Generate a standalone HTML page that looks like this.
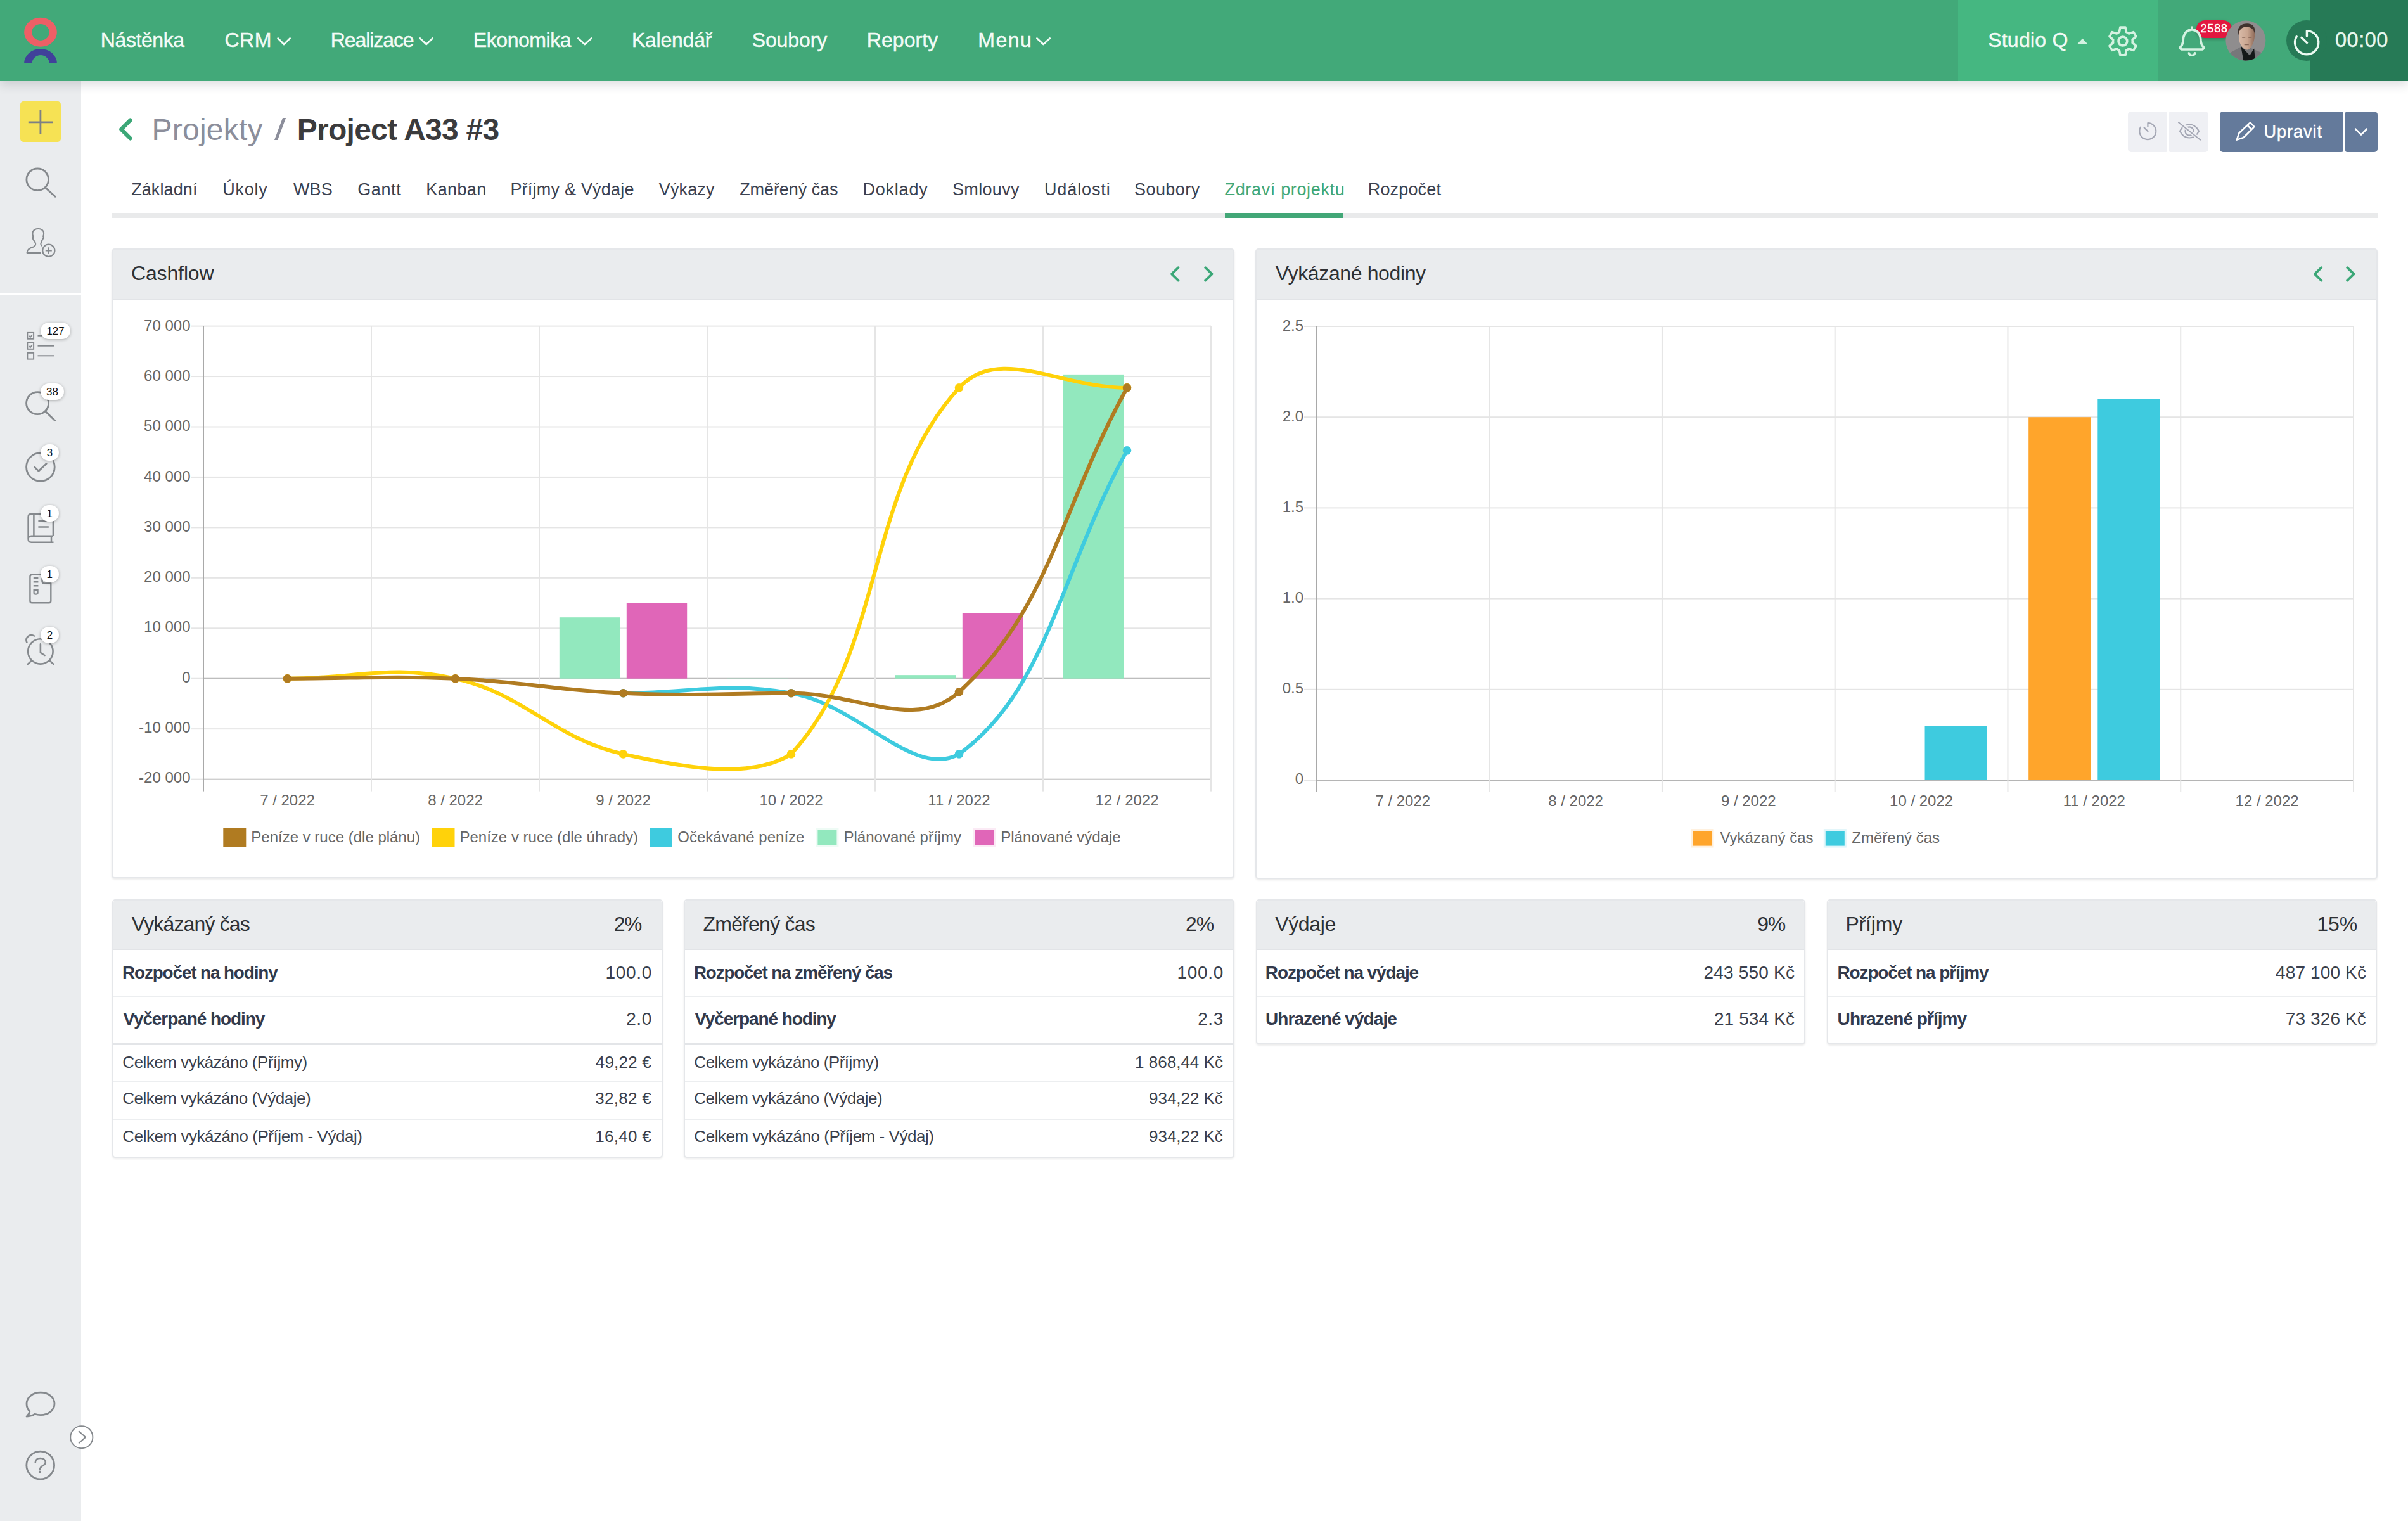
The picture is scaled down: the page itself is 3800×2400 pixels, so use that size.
<!DOCTYPE html>
<html lang="cs"><head><meta charset="utf-8"><title>Project A33 #3</title>
<style>
*{box-sizing:border-box}
html,body{margin:0;padding:0}
body{width:3800px;height:2400px;overflow:hidden;background:#fff;position:relative;font-family:"Liberation Sans",sans-serif}
div{position:absolute}
.t{position:absolute;white-space:nowrap;line-height:1em;font-family:"Liberation Sans",sans-serif}
#nav{left:0;top:0;width:3800px;height:127.6px;background:#42a979;box-shadow:0 5px 16px rgba(30,40,50,.16)}
#navl{left:3090px;top:0;width:316px;height:127.6px;background:#45b781}
#navd{left:3646px;top:0;width:154px;height:127.6px;background:#267a56}
#navc{left:3607.7px;top:31.9px;width:64px;height:64px;border-radius:50%;background:#267a56}
#side{left:0;top:128px;width:128px;height:2272px;background:#eaecee}
#sep{left:0;top:463px;width:128px;height:2.5px;background:#fff}
#plus{left:32px;top:160px;width:64px;height:63.5px;background:#f6e254;border-radius:5px}
.bd{background:#fff;border-radius:13px;height:26.2px;box-shadow:0 1px 5px rgba(0,0,0,.28)}
#red{left:3466px;top:31.6px;width:56px;height:28.8px;border-radius:14.4px;background:#e3173f;box-shadow:0 2px 5px rgba(0,0,0,.25)}
#tabline{left:176px;top:336px;width:3576px;height:7.6px;background:#e9eaeb}
#tabact{left:1933px;top:336px;width:187px;height:7.6px;background:#42a777}
.lb{background:#eff0f4;top:176px;height:63.7px}
.db{background:#647a9b;top:176px;height:63.7px}
.p{border:2px solid #e5e7ea;border-radius:5px;background:#fff;box-shadow:0 2px 3px rgba(0,0,0,.08)}
.ph{left:0;top:0;right:0;height:78.6px;background:#eaecee;border-radius:4px 4px 0 0;border-bottom:1.5px solid #e2e4e7}
.rl{left:0;right:0;height:2px;background:#eceef0}
svg{position:absolute;left:0;top:0}
</style></head>
<body>
<div id="side"></div><div id="sep"></div><div id="plus"></div>
<div id="nav"><div id="navl"></div><div id="navd"></div><div id="navc"></div></div>
<div id="red"></div>
<div class="bd" style="left:64.2px;top:509.1px;width:46.9px;z-index:3"></div>
<div class="bd" style="left:64.2px;top:605.3px;width:36.8px;z-index:3"></div>
<div class="bd" style="left:64.2px;top:701.3px;width:28.6px;z-index:3"></div>
<div class="bd" style="left:64.2px;top:797.3px;width:28.6px;z-index:3"></div>
<div class="bd" style="left:64.2px;top:893.3px;width:28.6px;z-index:3"></div>
<div class="bd" style="left:64.2px;top:989.3px;width:28.6px;z-index:3"></div>
<div id="tabline"></div><div id="tabact"></div>
<div class="lb" style="left:3357.5px;width:62.9px;border-radius:5px 2px 2px 5px"></div><div class="lb" style="left:3423.1px;width:62.3px;border-radius:2px 5px 5px 2px"></div>
<div class="db" style="left:3502.5px;width:195.1px;border-radius:5px 3px 3px 5px"></div><div class="db" style="left:3701px;width:51px;border-radius:3px 5px 5px 3px"></div>
<div class="p" style="left:176.4px;top:392.2px;width:1771.7px;height:993.8px"><div class="ph"></div></div>
<div class="p" style="left:1981.3px;top:392.2px;width:1770.6px;height:994.8px"><div class="ph"></div></div>
<div class="p" style="left:176.6px;top:1418.9px;width:869.1px;height:407.7px"><div class="ph"></div><div class="rl" style="top:150.5px;height:2.0px;background:#eceef0"></div><div class="rl" style="top:224.5px;height:3.2px;background:#e3e5e8"></div><div class="rl" style="top:284.5px;height:2.0px;background:#eceef0"></div><div class="rl" style="top:343.9px;height:2.0px;background:#eceef0"></div></div>
<div class="p" style="left:1079.3px;top:1418.9px;width:868.4px;height:407.7px"><div class="ph"></div><div class="rl" style="top:150.5px;height:2.0px;background:#eceef0"></div><div class="rl" style="top:224.5px;height:3.2px;background:#e3e5e8"></div><div class="rl" style="top:284.5px;height:2.0px;background:#eceef0"></div><div class="rl" style="top:343.9px;height:2.0px;background:#eceef0"></div></div>
<div class="p" style="left:1982.1px;top:1418.9px;width:866.8px;height:228.9px"><div class="ph"></div><div class="rl" style="top:150.5px;height:2.0px;background:#eceef0"></div></div>
<div class="p" style="left:2882.9px;top:1418.9px;width:868.6px;height:228.9px"><div class="ph"></div><div class="rl" style="top:150.5px;height:2.0px;background:#eceef0"></div></div>
<svg width="3800" height="2400" viewBox="0 0 3800 2400" style="z-index:2">
<rect x="301.50" y="513.60" width="19.50" height="2.00" fill="#e5e5e5"/>
<rect x="321.00" y="513.60" width="1590.00" height="2.00" fill="#e5e5e5"/>
<text x="300.5" y="521.5" text-anchor="end" font-family="Liberation Sans, sans-serif" font-size="24" fill="#666">70 000</text>
<rect x="301.50" y="593.04" width="19.50" height="2.00" fill="#e5e5e5"/>
<rect x="321.00" y="593.04" width="1590.00" height="2.00" fill="#e5e5e5"/>
<text x="300.5" y="600.8" text-anchor="end" font-family="Liberation Sans, sans-serif" font-size="24" fill="#666">60 000</text>
<rect x="301.50" y="672.49" width="19.50" height="2.00" fill="#e5e5e5"/>
<rect x="321.00" y="672.49" width="1590.00" height="2.00" fill="#e5e5e5"/>
<text x="300.5" y="680.1" text-anchor="end" font-family="Liberation Sans, sans-serif" font-size="24" fill="#666">50 000</text>
<rect x="301.50" y="751.93" width="19.50" height="2.00" fill="#e5e5e5"/>
<rect x="321.00" y="751.93" width="1590.00" height="2.00" fill="#e5e5e5"/>
<text x="300.5" y="759.5" text-anchor="end" font-family="Liberation Sans, sans-serif" font-size="24" fill="#666">40 000</text>
<rect x="301.50" y="831.38" width="19.50" height="2.00" fill="#e5e5e5"/>
<rect x="321.00" y="831.38" width="1590.00" height="2.00" fill="#e5e5e5"/>
<text x="300.5" y="838.8" text-anchor="end" font-family="Liberation Sans, sans-serif" font-size="24" fill="#666">30 000</text>
<rect x="301.50" y="910.82" width="19.50" height="2.00" fill="#e5e5e5"/>
<rect x="321.00" y="910.82" width="1590.00" height="2.00" fill="#e5e5e5"/>
<text x="300.5" y="918.1" text-anchor="end" font-family="Liberation Sans, sans-serif" font-size="24" fill="#666">20 000</text>
<rect x="301.50" y="990.27" width="19.50" height="2.00" fill="#e5e5e5"/>
<rect x="321.00" y="990.27" width="1590.00" height="2.00" fill="#e5e5e5"/>
<text x="300.5" y="997.4" text-anchor="end" font-family="Liberation Sans, sans-serif" font-size="24" fill="#666">10 000</text>
<rect x="301.50" y="1069.71" width="19.50" height="2.00" fill="#e5e5e5"/>
<rect x="321.00" y="1069.71" width="1590.00" height="2.00" fill="#bdbdbd"/>
<text x="300.5" y="1076.8" text-anchor="end" font-family="Liberation Sans, sans-serif" font-size="24" fill="#666">0</text>
<rect x="301.50" y="1149.16" width="19.50" height="2.00" fill="#e5e5e5"/>
<rect x="321.00" y="1149.16" width="1590.00" height="2.00" fill="#e5e5e5"/>
<text x="300.5" y="1156.1" text-anchor="end" font-family="Liberation Sans, sans-serif" font-size="24" fill="#666">-10 000</text>
<rect x="301.50" y="1228.60" width="19.50" height="2.00" fill="#e5e5e5"/>
<rect x="321.00" y="1228.60" width="1590.00" height="2.00" fill="#cfcfcf"/>
<text x="300.5" y="1235.4" text-anchor="end" font-family="Liberation Sans, sans-serif" font-size="24" fill="#666">-20 000</text>
<rect x="320.00" y="514.60" width="2.00" height="734.00" fill="#a9a9a9"/>
<rect x="585.00" y="514.60" width="2.00" height="734.00" fill="#e5e5e5"/>
<rect x="850.00" y="514.60" width="2.00" height="734.00" fill="#e5e5e5"/>
<rect x="1115.00" y="514.60" width="2.00" height="734.00" fill="#e5e5e5"/>
<rect x="1380.00" y="514.60" width="2.00" height="734.00" fill="#e5e5e5"/>
<rect x="1645.00" y="514.60" width="2.00" height="734.00" fill="#e5e5e5"/>
<rect x="1910.00" y="514.60" width="2.00" height="734.00" fill="#e5e5e5"/>
<rect x="882.80" y="974.19" width="95.40" height="96.53" fill="#92e8be"/>
<rect x="988.80" y="951.54" width="95.40" height="119.17" fill="#e066b8"/>
<rect x="1147.80" y="1070.47" width="95.40" height="0.24" fill="#92e8be"/>
<rect x="1412.80" y="1065.15" width="95.40" height="5.56" fill="#92e8be"/>
<rect x="1518.80" y="967.43" width="95.40" height="103.28" fill="#e066b8"/>
<rect x="1677.80" y="590.87" width="95.40" height="479.84" fill="#92e8be"/>
<path d="M983.50 1093.75 C1089.50 1093.75 1145.77 1075.12 1248.50 1093.75 C1357.77 1113.57 1441.44 1229.60 1513.50 1189.88 C1653.44 1088.77 1672.50 902.45 1778.50 710.83" fill="none" stroke="#3ecbdf" stroke-width="6" stroke-linejoin="round"/>
<circle cx="983.50" cy="1093.75" r="6.8" fill="#3ecbdf"/>
<circle cx="1248.50" cy="1093.75" r="6.8" fill="#3ecbdf"/>
<circle cx="1513.50" cy="1189.88" r="6.8" fill="#3ecbdf"/>
<circle cx="1778.50" cy="710.83" r="6.8" fill="#3ecbdf"/>
<path d="M453.50 1070.71 C559.50 1070.71 617.38 1047.97 718.50 1070.71 C829.38 1095.64 872.62 1164.95 983.50 1189.88 C1084.62 1212.61 1186.13 1229.60 1248.50 1189.88 C1398.13 1026.70 1363.87 775.09 1513.50 611.92 C1575.87 543.91 1672.50 611.92 1778.50 611.92" fill="none" stroke="#ffd20a" stroke-width="6" stroke-linejoin="round"/>
<circle cx="453.50" cy="1070.71" r="6.8" fill="#ffd20a"/>
<circle cx="718.50" cy="1070.71" r="6.8" fill="#ffd20a"/>
<circle cx="983.50" cy="1189.88" r="6.8" fill="#ffd20a"/>
<circle cx="1248.50" cy="1189.88" r="6.8" fill="#ffd20a"/>
<circle cx="1513.50" cy="611.92" r="6.8" fill="#ffd20a"/>
<circle cx="1778.50" cy="611.92" r="6.8" fill="#ffd20a"/>
<path d="M453.50 1070.71 C559.50 1070.71 612.70 1066.11 718.50 1070.71 C824.70 1075.33 877.30 1089.13 983.50 1093.75 C1089.30 1098.35 1142.50 1094.15 1248.50 1093.75 C1354.50 1093.35 1444.41 1154.57 1513.50 1091.76 C1656.41 961.84 1672.50 803.86 1778.50 611.92" fill="none" stroke="#b07b21" stroke-width="6" stroke-linejoin="round"/>
<circle cx="453.50" cy="1070.71" r="6.8" fill="#b07b21"/>
<circle cx="718.50" cy="1070.71" r="6.8" fill="#b07b21"/>
<circle cx="983.50" cy="1093.75" r="6.8" fill="#b07b21"/>
<circle cx="1248.50" cy="1093.75" r="6.8" fill="#b07b21"/>
<circle cx="1513.50" cy="1091.76" r="6.8" fill="#b07b21"/>
<circle cx="1778.50" cy="611.92" r="6.8" fill="#b07b21"/>
<text x="453.5" y="1271" text-anchor="middle" font-family="Liberation Sans, sans-serif" font-size="24" fill="#666">7 / 2022</text>
<text x="718.5" y="1271" text-anchor="middle" font-family="Liberation Sans, sans-serif" font-size="24" fill="#666">8 / 2022</text>
<text x="983.5" y="1271" text-anchor="middle" font-family="Liberation Sans, sans-serif" font-size="24" fill="#666">9 / 2022</text>
<text x="1248.5" y="1271" text-anchor="middle" font-family="Liberation Sans, sans-serif" font-size="24" fill="#666">10 / 2022</text>
<text x="1513.5" y="1271" text-anchor="middle" font-family="Liberation Sans, sans-serif" font-size="24" fill="#666">11 / 2022</text>
<text x="1778.5" y="1271" text-anchor="middle" font-family="Liberation Sans, sans-serif" font-size="24" fill="#666">12 / 2022</text>
<rect x="352.30" y="1306.60" width="36.00" height="30.00" fill="#b07b21"/>
<rect x="681.50" y="1306.60" width="36.00" height="30.00" fill="#ffd20a"/>
<rect x="1025.00" y="1306.60" width="36.00" height="30.00" fill="#3ecbdf"/>
<rect x="1287.40" y="1306.60" width="36.00" height="30.00" fill="#eefbf5"/>
<rect x="1290.40" y="1309.60" width="30.00" height="24.00" fill="#92e8be"/>
<rect x="1535.40" y="1306.60" width="36.00" height="30.00" fill="#fbeaf5"/>
<rect x="1538.40" y="1309.60" width="30.00" height="24.00" fill="#e066b8"/>
<text x="396.3" y="1328.6" font-family="Liberation Sans, sans-serif" font-size="24" fill="#666">Peníze v ruce (dle plánu)</text>
<text x="725.5" y="1328.6" font-family="Liberation Sans, sans-serif" font-size="24" fill="#666">Peníze v ruce (dle úhrady)</text>
<text x="1069.3" y="1328.6" font-family="Liberation Sans, sans-serif" font-size="24" fill="#666">Očekávané peníze</text>
<text x="1331.5" y="1328.6" font-family="Liberation Sans, sans-serif" font-size="24" fill="#666">Plánované příjmy</text>
<text x="1579.2" y="1328.6" font-family="Liberation Sans, sans-serif" font-size="24" fill="#666">Plánované výdaje</text>
<rect x="2057.90" y="514.00" width="19.50" height="2.00" fill="#e5e5e5"/>
<rect x="2077.40" y="514.00" width="1636.60" height="2.00" fill="#e5e5e5"/>
<text x="2057" y="521.7" text-anchor="end" font-family="Liberation Sans, sans-serif" font-size="24" fill="#666">2.5</text>
<rect x="2057.90" y="657.20" width="19.50" height="2.00" fill="#e5e5e5"/>
<rect x="2077.40" y="657.20" width="1636.60" height="2.00" fill="#e5e5e5"/>
<text x="2057" y="664.7" text-anchor="end" font-family="Liberation Sans, sans-serif" font-size="24" fill="#666">2.0</text>
<rect x="2057.90" y="800.40" width="19.50" height="2.00" fill="#e5e5e5"/>
<rect x="2077.40" y="800.40" width="1636.60" height="2.00" fill="#e5e5e5"/>
<text x="2057" y="807.7" text-anchor="end" font-family="Liberation Sans, sans-serif" font-size="24" fill="#666">1.5</text>
<rect x="2057.90" y="943.60" width="19.50" height="2.00" fill="#e5e5e5"/>
<rect x="2077.40" y="943.60" width="1636.60" height="2.00" fill="#e5e5e5"/>
<text x="2057" y="950.7" text-anchor="end" font-family="Liberation Sans, sans-serif" font-size="24" fill="#666">1.0</text>
<rect x="2057.90" y="1086.80" width="19.50" height="2.00" fill="#e5e5e5"/>
<rect x="2077.40" y="1086.80" width="1636.60" height="2.00" fill="#e5e5e5"/>
<text x="2057" y="1093.7" text-anchor="end" font-family="Liberation Sans, sans-serif" font-size="24" fill="#666">0.5</text>
<rect x="2057.90" y="1230.00" width="19.50" height="2.00" fill="#e5e5e5"/>
<rect x="2077.40" y="1230.00" width="1636.60" height="2.00" fill="#b5b5b5"/>
<text x="2057" y="1236.8" text-anchor="end" font-family="Liberation Sans, sans-serif" font-size="24" fill="#666">0</text>
<rect x="2076.40" y="515.00" width="2.00" height="735.00" fill="#a9a9a9"/>
<rect x="2349.17" y="515.00" width="2.00" height="735.00" fill="#e5e5e5"/>
<rect x="2621.93" y="515.00" width="2.00" height="735.00" fill="#e5e5e5"/>
<rect x="2894.70" y="515.00" width="2.00" height="735.00" fill="#e5e5e5"/>
<rect x="3167.47" y="515.00" width="2.00" height="735.00" fill="#e5e5e5"/>
<rect x="3440.23" y="515.00" width="2.00" height="735.00" fill="#e5e5e5"/>
<rect x="3713.00" y="515.00" width="2.00" height="735.00" fill="#e5e5e5"/>
<rect x="3037.54" y="1145.08" width="98.20" height="85.92" fill="#3ecbdf"/>
<rect x="3201.20" y="658.20" width="98.20" height="572.80" fill="#ffa52b"/>
<rect x="3310.31" y="629.56" width="98.20" height="601.44" fill="#3ecbdf"/>
<text x="2213.8" y="1272.2" text-anchor="middle" font-family="Liberation Sans, sans-serif" font-size="24" fill="#666">7 / 2022</text>
<text x="2486.6" y="1272.2" text-anchor="middle" font-family="Liberation Sans, sans-serif" font-size="24" fill="#666">8 / 2022</text>
<text x="2759.3" y="1272.2" text-anchor="middle" font-family="Liberation Sans, sans-serif" font-size="24" fill="#666">9 / 2022</text>
<text x="3032.1" y="1272.2" text-anchor="middle" font-family="Liberation Sans, sans-serif" font-size="24" fill="#666">10 / 2022</text>
<text x="3304.8" y="1272.2" text-anchor="middle" font-family="Liberation Sans, sans-serif" font-size="24" fill="#666">11 / 2022</text>
<text x="3577.6" y="1272.2" text-anchor="middle" font-family="Liberation Sans, sans-serif" font-size="24" fill="#666">12 / 2022</text>
<rect x="2668.50" y="1308.10" width="36.00" height="29.50" fill="#fff0dc"/>
<rect x="2671.50" y="1311.10" width="30.00" height="23.50" fill="#ffa52b"/>
<rect x="2877.80" y="1308.10" width="36.00" height="29.50" fill="#e0f6fa"/>
<rect x="2880.80" y="1311.10" width="30.00" height="23.50" fill="#3ecbdf"/>
<text x="2714.4" y="1330.4" font-family="Liberation Sans, sans-serif" font-size="24" fill="#666">Vykázaný čas</text>
<text x="2922.3" y="1330.4" font-family="Liberation Sans, sans-serif" font-size="24" fill="#666">Změřený čas</text>
<path fill="#ee5f66" fill-rule="evenodd" d="M38.1 50.7a25.9 23 0 1 0 51.8 0a25.9 23 0 1 0 -51.8 0Z M50.3 50.9a13.8 13 0 1 0 27.6 0a13.8 13 0 1 0 -27.6 0Z"/>
<path fill="#40419a" d="M38.1 100.1A25.9 23.2 0 0 1 89.9 100.1L77.9 100.1A13.7 13 0 0 0 50.5 100.1Z"/>
<path d="M438.7 60.5L448.1 70L457.6 60.5" fill="none" stroke="#f3fbf6" stroke-width="2.8" stroke-linecap="round" stroke-linejoin="round"/>
<path d="M662.9 60.5L672.8 70L682.6 60.5" fill="none" stroke="#f3fbf6" stroke-width="2.8" stroke-linecap="round" stroke-linejoin="round"/>
<path d="M912.4 60.5L922.8 70L933.2 60.5" fill="none" stroke="#f3fbf6" stroke-width="2.8" stroke-linecap="round" stroke-linejoin="round"/>
<path d="M1636.4 60.5L1646.5 70L1656.7 60.5" fill="none" stroke="#f3fbf6" stroke-width="2.8" stroke-linecap="round" stroke-linejoin="round"/>
<path d="M3278.6 69L3286.3 60.8L3294 69Z" fill="#d4f2e1"/>
<path d="M3344.38 50.62L3345.85 43.17L3353.95 43.17L3355.42 50.62A15.4 15.4 0 0 1 3359.59 53.03L3366.78 50.58L3370.83 57.59L3365.11 62.59A15.4 15.4 0 0 1 3365.11 67.41L3370.83 72.41L3366.78 79.42L3359.59 76.97A15.4 15.4 0 0 1 3355.42 79.38L3353.95 86.83L3345.85 86.83L3344.38 79.38A15.4 15.4 0 0 1 3340.21 76.97L3333.02 79.42L3328.97 72.41L3334.69 67.41A15.4 15.4 0 0 1 3334.69 62.59L3328.97 57.59L3333.02 50.58L3340.21 53.03A15.4 15.4 0 0 1 3344.38 50.62Z" fill="none" stroke="#d4f2e1" stroke-width="3.6" stroke-linejoin="round"/>
<circle cx="3349.9" cy="65.0" r="6.9" fill="none" stroke="#d4f2e1" stroke-width="3.6"/>
<path d="M3442.30 78.00C3441.97 77.53 3440.12 76.40 3440.30 75.20C3440.48 74.00 3442.62 72.50 3443.40 70.80C3444.18 69.10 3444.60 67.05 3445.00 65.00C3445.40 62.95 3445.05 60.87 3445.80 58.50C3446.55 56.13 3447.30 52.75 3449.50 50.80C3451.70 48.85 3455.83 46.80 3459.00 46.80C3462.17 46.80 3466.30 48.85 3468.50 50.80C3470.70 52.75 3471.45 56.13 3472.20 58.50C3472.95 60.87 3472.60 62.95 3473.00 65.00C3473.40 67.05 3473.82 69.10 3474.60 70.80C3475.38 72.50 3477.52 74.00 3477.70 75.20C3477.88 76.40 3476.03 77.53 3475.70 78.00Z" fill="none" stroke="#d4f2e1" stroke-width="3.7" stroke-linejoin="round"/>
<path d="M3459 46V43.2" stroke="#d4f2e1" stroke-width="3.7" stroke-linecap="round"/>
<path d="M3454.2 83.6A4.9 4.6 0 0 0 3463.8 83.6" fill="none" stroke="#d4f2e1" stroke-width="3.3" stroke-linecap="round"/>
<defs><clipPath id="av"><circle cx="3543.9" cy="64.1" r="31.5"/></clipPath><linearGradient id="sk" x1="0" x2="1"><stop offset="0" stop-color="#d9bba8"/><stop offset="0.55" stop-color="#c9a590"/><stop offset="1" stop-color="#8d6a58"/></linearGradient></defs>
<g clip-path="url(#av)"><rect x="3510" y="30" width="70" height="70" fill="#8f8d8e"/><path d="M3514 100 L3518 84 L3536 74 L3552 76 L3571 84 L3578 100Z" fill="#77777a"/><g transform="translate(2.2 0.5)"><path d="M3534 72 L3539 100 L3557 100 L3555 76 L3548 87 Z" fill="#141818"/><path d="M3530.5 52 C3529.5 41 3535 37.5 3543 37.5 C3552 37.5 3557 42 3556 54 C3556 62 3553 72 3546.5 77.5 C3540.5 79.5 3535 74 3532 66Z" fill="url(#sk)"/><path d="M3530 55 C3527.5 42 3534 36.8 3543.5 36.8 C3553 36.8 3558 42 3556.5 56 C3555.5 47.5 3552 42.5 3544 42 C3536 41.5 3532 45 3530 55Z" fill="#40332e"/><path d="M3536 58.5h5M3546 58.5h5M3539.5 70h7" stroke="#6e4f42" stroke-width="1.4" opacity=".7"/></g></g>
<path d="M3640.4 48.6V57M3640.4 48.6A18.6 18.6 0 1 1 3624.2 57.7M3632 59.2L3640.6 67.4" fill="none" stroke="#ecfaf2" stroke-width="3.4" stroke-linecap="round"/>
<path d="M44.8 192.9H83M63.9 173.8V212" stroke="#7d8084" stroke-width="2.8" fill="none"/>
<circle cx="59.2" cy="283.3" r="17.3" fill="none" stroke="#85898d" stroke-width="2.8"/><path d="M71.5 296L87 310.3" stroke="#85898d" stroke-width="2.8" stroke-linecap="round"/>
<path d="M65.60 388.50C65.40 387.92 64.50 385.98 64.40 385.00C64.30 384.02 64.62 383.68 65.00 382.60C65.38 381.52 66.17 379.58 66.70 378.50C67.23 377.42 67.85 376.70 68.20 376.10C68.55 375.50 68.80 375.40 68.80 374.90C68.80 374.40 68.15 373.98 68.20 373.10C68.25 372.22 69.05 370.88 69.10 369.60C69.15 368.32 69.08 366.63 68.50 365.40C67.92 364.17 66.98 362.93 65.60 362.20C64.22 361.47 61.98 361.00 60.20 361.00C58.42 361.00 56.27 361.47 54.90 362.20C53.53 362.93 52.58 364.17 52.00 365.40C51.42 366.63 51.37 368.32 51.40 369.60C51.43 370.88 52.15 372.12 52.20 373.10C52.25 374.08 51.65 374.70 51.70 375.50C51.75 376.30 51.97 376.92 52.50 377.90C53.03 378.88 54.30 380.32 54.90 381.40C55.50 382.48 56.00 383.42 56.10 384.40C56.20 385.38 56.00 386.47 55.50 387.30C55.00 388.13 54.38 388.70 53.10 389.40C51.82 390.10 49.37 390.57 47.80 391.50C46.23 392.43 44.57 393.77 43.70 395.00C42.83 396.23 42.78 398.25 42.60 398.90L64.1 398.9" fill="none" stroke="#85898d" stroke-width="2.1" stroke-linejoin="round"/>
<circle cx="76.8" cy="395.3" r="9.6" fill="none" stroke="#85898d" stroke-width="2.2"/><path d="M71.8 395.3H81.8M76.8 390.3V400.3" stroke="#85898d" stroke-width="2.2"/>
<rect x="43.3" y="524.9" width="9.8" height="9.8" fill="none" stroke="#85898d" stroke-width="2"/>
<rect x="43.3" y="541.0" width="9.8" height="9.8" fill="none" stroke="#85898d" stroke-width="2"/>
<rect x="43.3" y="556.8" width="9.8" height="9.8" fill="none" stroke="#85898d" stroke-width="2"/>
<path d="M45.6 529.9L47.8 532.2L51.2 527.7" fill="none" stroke="#85898d" stroke-width="1.8"/>
<path d="M45.6 546.0L47.8 548.3L51.2 543.8" fill="none" stroke="#85898d" stroke-width="1.8"/>
<path d="M59.5 529.7H85.8" stroke="#85898d" stroke-width="2"/>
<path d="M59.5 545.7H85.8" stroke="#85898d" stroke-width="2"/>
<path d="M59.5 561.3H85.8" stroke="#85898d" stroke-width="2"/>
<circle cx="59.1" cy="636.2" r="17.5" fill="none" stroke="#85898d" stroke-width="2.8"/><path d="M72 649.6L86.6 663.6" stroke="#85898d" stroke-width="2.8" stroke-linecap="round"/>
<circle cx="63.9" cy="736.9" r="22.3" fill="none" stroke="#85898d" stroke-width="2.8"/><path d="M54.5 737L61 743.2L73.2 731.4" fill="none" stroke="#85898d" stroke-width="2.8" stroke-linecap="round" stroke-linejoin="round"/>
<path d="M83.9 845.8V810.8H49.5Q44.6 810.8 44.6 815.8V850.5M53.4 810.8V845.8M83.9 845.8H49.5Q44.6 845.8 44.6 850.7Q44.6 855.7 49.5 855.7H84.5M81 845.8V855.7M60.4 822.3H74M60.4 831.5H76.8" fill="none" stroke="#85898d" stroke-width="2.5" stroke-linejoin="round"/>
<path d="M67 906.7H50.5Q47.4 906.7 47.4 909.8V948.2Q47.4 951.3 50.5 951.3H77.2Q80.3 951.3 80.3 948.2V920.5H70Q66.5 920.5 66.5 917V906.7M52.8 912.1H60.4M52.8 918.2H60.4M52.8 924.3H60.4" fill="none" stroke="#85898d" stroke-width="2.4" stroke-linejoin="round"/>
<path d="M53.6 930.8H59.6V935.4Q59.6 937.6 56.6 937.6Q53.6 937.6 53.6 935.4Z" fill="none" stroke="#85898d" stroke-width="2.2"/>
<circle cx="63.9" cy="1027.9" r="19.7" fill="none" stroke="#85898d" stroke-width="2.6"/>
<path d="M63.9 1016.4V1029.8L70.5 1034M43.8 1047.9L49.6 1042.7M84.4 1047.9L78.7 1042.7M42.3 1013.5A8 8 0 0 1 54 1003.5" fill="none" stroke="#85898d" stroke-width="2.6" stroke-linecap="round" stroke-linejoin="round"/>
<path d="M64 2197.2C76.5 2197.2 86 2205 86 2215C86 2225 76.5 2232.6 64 2232.6C61 2232.6 58 2232.2 55.2 2231.2C51.5 2233.6 47 2235 42 2235C45 2232.5 46.5 2229.5 46.8 2227C43.6 2223.8 42 2219.6 42 2215C42 2205 51.5 2197.2 64 2197.2Z" fill="none" stroke="#85898d" stroke-width="2.8" stroke-linejoin="round"/>
<circle cx="63.7" cy="2312" r="21.9" fill="none" stroke="#85898d" stroke-width="2.8"/>
<path d="M55.8 2307.5C55.8 2303.5 59 2301 63.5 2301C68.5 2301 71.8 2303.6 71.8 2307.5C71.8 2313 63.2 2312.5 63.2 2318.5" fill="none" stroke="#85898d" stroke-width="2.6" stroke-linecap="round"/><circle cx="62.8" cy="2322.6" r="2.1" fill="#85898d"/>
<circle cx="128.8" cy="2267.7" r="17.6" fill="#fff" stroke="#85898d" stroke-width="1.9"/><path d="M124.8 2258.7L135 2267.8L124.8 2276.8" fill="none" stroke="#85898d" stroke-width="2.2" stroke-linecap="round" stroke-linejoin="round"/>
<path d="M205.7 189.5L191.3 204L205.7 218.4" fill="none" stroke="#3ba777" stroke-width="6.2" stroke-linecap="round" stroke-linejoin="round"/>
<path d="M1859.5 422.2L1849.0 432.4L1859.5 442.6" fill="none" stroke="#3ba777" stroke-width="3.8" stroke-linecap="round" stroke-linejoin="round"/>
<path d="M3663.3 422.2L3652.8 432.4L3663.3 442.6" fill="none" stroke="#3ba777" stroke-width="3.8" stroke-linecap="round" stroke-linejoin="round"/>
<path d="M1902.1 422.2L1912.6 432.4L1902.1 442.6" fill="none" stroke="#3ba777" stroke-width="3.8" stroke-linecap="round" stroke-linejoin="round"/>
<path d="M3704.1 422.2L3714.6 432.4L3704.1 442.6" fill="none" stroke="#3ba777" stroke-width="3.8" stroke-linecap="round" stroke-linejoin="round"/>
<path d="M3389.4 194V200M3389.4 194A13 13 0 1 1 3378 200.6M3383.6 201.4L3389.5 207.2" fill="none" stroke="#a4a7b4" stroke-width="2.2" stroke-linecap="round"/>
<path d="M3440 207C3444 199 3449.5 196.5 3455 196.5C3460.5 196.5 3466 199 3470 207C3466 215 3460.5 217.5 3455 217.5C3449.5 217.5 3444 215 3440 207Z" fill="none" stroke="#a4a7b4" stroke-width="2.1"/>
<circle cx="3455" cy="207" r="6.6" fill="none" stroke="#a4a7b4" stroke-width="2.1"/>
<path d="M3438 192.7L3472.2 220.8" stroke="#eff0f4" stroke-width="5.5"/><path d="M3438 193.3L3472.2 220.7" stroke="#a4a7b4" stroke-width="2.1" stroke-linecap="round"/>
<path d="M3552.2 194.6L3556.3 198.7Q3557.4 200 3556.3 201.2L3540.5 217L3529.8 220.6L3533.4 210L3549.6 194.6Q3550.9 193.5 3552.2 194.6ZM3546.5 197.6L3553.4 204.5" fill="none" stroke="#fff" stroke-width="2.5" stroke-linejoin="round"/>
<path d="M3717 203.5L3726 212.5L3735 203.5" fill="none" stroke="#fff" stroke-width="2.6" stroke-linecap="round" stroke-linejoin="round"/>
</svg>
<div style="z-index:4;left:0;top:0">
<span class="t" style="font-size:32px;color:#f3fbf6;-webkit-text-stroke:0.45px #f3fbf6;letter-spacing:-0.420px;left:158.87px;top:46.80px;">Nástěnka</span>
<span class="t" style="font-size:32px;color:#f3fbf6;-webkit-text-stroke:0.45px #f3fbf6;letter-spacing:0.432px;left:354.56px;top:46.80px;">CRM</span>
<span class="t" style="font-size:32px;color:#f3fbf6;-webkit-text-stroke:0.45px #f3fbf6;letter-spacing:-1.086px;left:521.77px;top:46.80px;">Realizace</span>
<span class="t" style="font-size:32px;color:#f3fbf6;-webkit-text-stroke:0.45px #f3fbf6;letter-spacing:-0.457px;left:746.87px;top:46.80px;">Ekonomika</span>
<span class="t" style="font-size:32px;color:#f3fbf6;-webkit-text-stroke:0.45px #f3fbf6;letter-spacing:-0.245px;left:996.97px;top:46.80px;">Kalendář</span>
<span class="t" style="font-size:32px;color:#f3fbf6;-webkit-text-stroke:0.45px #f3fbf6;letter-spacing:-0.102px;left:1186.67px;top:46.80px;">Soubory</span>
<span class="t" style="font-size:32px;color:#f3fbf6;-webkit-text-stroke:0.45px #f3fbf6;letter-spacing:0.061px;left:1367.77px;top:46.80px;">Reporty</span>
<span class="t" style="font-size:32px;color:#f3fbf6;-webkit-text-stroke:0.45px #f3fbf6;letter-spacing:1.449px;left:1543.37px;top:46.80px;">Menu</span>
<span class="t" style="font-size:32px;color:#f3fbf6;-webkit-text-stroke:0.45px #f3fbf6;letter-spacing:0.239px;left:3137.17px;top:46.80px;">Studio Q</span>
<span class="t" style="font-size:32.5px;color:#e8f8ef;-webkit-text-stroke:0.40px #e8f8ef;letter-spacing:0.522px;left:3685.01px;top:46.58px;">00:00</span>
<span class="t" style="font-size:18px;color:#ffffff;-webkit-text-stroke:0.30px #ffffff;letter-spacing:0.827px;left:3472.48px;top:35.90px;">2588</span>
<span class="t" style="font-size:48px;color:#8c8e9b;letter-spacing:0.207px;left:239.60px;top:180.70px;">Projekty</span>
<span class="t" style="font-size:48px;color:#8c8e9b;transform:scaleX(1.3559);transform-origin:0 0;left:433.10px;top:180.70px;">/</span>
<span class="t" style="font-size:48px;color:#3b3b3d;font-weight:700;letter-spacing:-0.738px;left:468.78px;top:180.70px;">Project A33 #3</span>
<span class="t" style="font-size:27px;color:#ffffff;-webkit-text-stroke:0.40px #ffffff;letter-spacing:1.016px;left:3572.40px;top:194.55px;">Upravit</span>
<span class="t" style="font-size:27px;color:#3b4150;letter-spacing:0.113px;left:207.14px;top:285.55px;">Základní</span>
<span class="t" style="font-size:27px;color:#3b4150;letter-spacing:0.787px;left:351.20px;top:285.55px;">Úkoly</span>
<span class="t" style="font-size:27px;color:#3b4150;letter-spacing:0.090px;left:462.97px;top:285.55px;">WBS</span>
<span class="t" style="font-size:27px;color:#3b4150;letter-spacing:0.619px;left:564.13px;top:285.55px;">Gantt</span>
<span class="t" style="font-size:27px;color:#3b4150;letter-spacing:0.369px;left:672.28px;top:285.55px;">Kanban</span>
<span class="t" style="font-size:27px;color:#3b4150;letter-spacing:0.223px;left:805.38px;top:285.55px;">Příjmy &amp; Výdaje</span>
<span class="t" style="font-size:27px;color:#3b4150;letter-spacing:0.125px;left:1039.83px;top:285.55px;">Výkazy</span>
<span class="t" style="font-size:27px;color:#3b4150;letter-spacing:-0.064px;left:1167.14px;top:285.55px;">Změřený čas</span>
<span class="t" style="font-size:27px;color:#3b4150;letter-spacing:0.779px;left:1361.48px;top:285.55px;">Doklady</span>
<span class="t" style="font-size:27px;color:#3b4150;letter-spacing:0.327px;left:1502.99px;top:285.55px;">Smlouvy</span>
<span class="t" style="font-size:27px;color:#3b4150;letter-spacing:0.874px;left:1648.00px;top:285.55px;">Události</span>
<span class="t" style="font-size:27px;color:#3b4150;letter-spacing:0.440px;left:1789.99px;top:285.55px;">Soubory</span>
<span class="t" style="font-size:27px;color:#3b4150;letter-spacing:0.158px;left:2158.78px;top:285.55px;">Rozpočet</span>
<span class="t" style="font-size:27px;color:#42a777;letter-spacing:0.655px;left:1932.54px;top:285.55px;">Zdraví projektu</span>
<span class="t" style="font-size:32px;color:#2e3135;letter-spacing:-0.134px;left:206.96px;top:414.60px;">Cashflow</span>
<span class="t" style="font-size:32px;color:#2e3135;letter-spacing:-0.380px;left:2012.85px;top:414.60px;">Vykázané hodiny</span>
<span class="t" style="font-size:32px;color:#2e3135;letter-spacing:-0.841px;left:207.85px;top:1442.20px;">Vykázaný čas</span>
<span class="t" style="font-size:32px;color:#2e3135;letter-spacing:-1.280px;transform:scaleX(0.9857);transform-origin:0 0;left:969.10px;top:1442.20px;">2%</span>
<span class="t" style="font-size:32px;color:#2e3135;letter-spacing:-0.760px;left:1109.48px;top:1442.20px;">Změřený čas</span>
<span class="t" style="font-size:32px;color:#2e3135;letter-spacing:-1.180px;left:1871.08px;top:1442.20px;">2%</span>
<span class="t" style="font-size:32px;color:#2e3135;letter-spacing:-0.362px;left:2012.25px;top:1442.20px;">Výdaje</span>
<span class="t" style="font-size:32px;color:#2e3135;letter-spacing:-1.280px;left:2773.20px;top:1442.20px;">9%</span>
<span class="t" style="font-size:32px;color:#2e3135;letter-spacing:-0.184px;left:2912.47px;top:1442.20px;">Příjmy</span>
<span class="t" style="font-size:32px;color:#2e3135;letter-spacing:-0.058px;left:3656.30px;top:1442.20px;">15%</span>
<span class="t" style="font-size:28px;color:#323a4c;font-weight:700;letter-spacing:-1.120px;transform:scaleX(0.9947);transform-origin:0 0;left:192.84px;top:1520.60px;">Rozpočet na hodiny</span>
<span class="t" style="font-size:28px;color:#3a3f4c;letter-spacing:0.672px;left:955.56px;top:1520.60px;">100.0</span>
<span class="t" style="font-size:28px;color:#323a4c;font-weight:700;letter-spacing:-1.079px;left:194.33px;top:1594.40px;">Vyčerpané hodiny</span>
<span class="t" style="font-size:28px;color:#3a3f4c;letter-spacing:0.585px;left:988.20px;top:1594.40px;">2.0</span>
<span class="t" style="font-size:28px;color:#323a4c;font-weight:700;letter-spacing:-1.120px;transform:scaleX(0.9881);transform-origin:0 0;left:1094.85px;top:1520.60px;">Rozpočet na změřený čas</span>
<span class="t" style="font-size:28px;color:#3a3f4c;letter-spacing:0.647px;left:1857.56px;top:1520.60px;">100.0</span>
<span class="t" style="font-size:28px;color:#323a4c;font-weight:700;letter-spacing:-1.105px;left:1096.33px;top:1594.40px;">Vyčerpané hodiny</span>
<span class="t" style="font-size:28px;color:#3a3f4c;letter-spacing:0.601px;left:1890.20px;top:1594.40px;">2.3</span>
<span class="t" style="font-size:28px;color:#323a4c;font-weight:700;letter-spacing:-1.120px;left:1996.83px;top:1520.60px;">Rozpočet na výdaje</span>
<span class="t" style="font-size:28px;color:#3a3f4c;letter-spacing:0.216px;left:2688.40px;top:1520.60px;">243 550 Kč</span>
<span class="t" style="font-size:28px;color:#323a4c;font-weight:700;letter-spacing:-0.941px;left:1997.01px;top:1594.40px;">Uhrazené výdaje</span>
<span class="t" style="font-size:28px;color:#3a3f4c;letter-spacing:0.118px;left:2704.90px;top:1594.40px;">21 534 Kč</span>
<span class="t" style="font-size:28px;color:#323a4c;font-weight:700;letter-spacing:-1.120px;left:2899.43px;top:1520.60px;">Rozpočet na příjmy</span>
<span class="t" style="font-size:28px;color:#3a3f4c;letter-spacing:0.133px;left:3591.05px;top:1520.60px;">487 100 Kč</span>
<span class="t" style="font-size:28px;color:#323a4c;font-weight:700;letter-spacing:-0.955px;left:2899.61px;top:1594.40px;">Uhrazené příjmy</span>
<span class="t" style="font-size:28px;color:#3a3f4c;letter-spacing:0.118px;left:3606.80px;top:1594.40px;">73 326 Kč</span>
<span class="t" style="font-size:26px;color:#3a3f4c;letter-spacing:-0.506px;left:193.37px;top:1662.70px;">Celkem vykázáno (Příjmy)</span>
<span class="t" style="font-size:26px;color:#3a3f4c;letter-spacing:-0.523px;left:193.37px;top:1720.30px;">Celkem vykázáno (Výdaje)</span>
<span class="t" style="font-size:26px;color:#3a3f4c;letter-spacing:-0.467px;left:193.37px;top:1780.30px;">Celkem vykázáno (Příjem - Výdaj)</span>
<span class="t" style="font-size:26px;color:#3a3f4c;letter-spacing:-0.506px;left:1095.37px;top:1662.70px;">Celkem vykázáno (Příjmy)</span>
<span class="t" style="font-size:26px;color:#3a3f4c;letter-spacing:-0.523px;left:1095.37px;top:1720.30px;">Celkem vykázáno (Výdaje)</span>
<span class="t" style="font-size:26px;color:#3a3f4c;letter-spacing:-0.467px;left:1095.37px;top:1780.30px;">Celkem vykázáno (Příjem - Výdaj)</span>
<span class="t" style="font-size:26px;color:#3a3f4c;letter-spacing:0.200px;left:939.80px;top:1662.70px;">49,22 €</span>
<span class="t" style="font-size:26px;color:#3a3f4c;letter-spacing:0.279px;left:939.32px;top:1720.30px;">32,82 €</span>
<span class="t" style="font-size:26px;color:#3a3f4c;letter-spacing:0.299px;left:939.20px;top:1780.30px;">16,40 €</span>
<span class="t" style="font-size:26px;color:#3a3f4c;letter-spacing:0.016px;left:1791.00px;top:1662.70px;">1 868,44 Kč</span>
<span class="t" style="font-size:26px;color:#3a3f4c;letter-spacing:-0.035px;left:1813.07px;top:1720.30px;">934,22 Kč</span>
<span class="t" style="font-size:26px;color:#3a3f4c;letter-spacing:-0.035px;left:1813.07px;top:1780.30px;">934,22 Kč</span>
<span class="t" style="font-size:17px;color:#111;left:73.42px;top:513.85px;">127</span>
<span class="t" style="font-size:17px;color:#111;left:73.11px;top:610.05px;">38</span>
<span class="t" style="font-size:17px;color:#111;left:73.77px;top:706.05px;">3</span>
<span class="t" style="font-size:17px;color:#111;left:73.50px;top:802.05px;">1</span>
<span class="t" style="font-size:17px;color:#111;left:73.50px;top:898.05px;">1</span>
<span class="t" style="font-size:17px;color:#111;left:73.74px;top:994.05px;">2</span>
</div>
</body></html>
